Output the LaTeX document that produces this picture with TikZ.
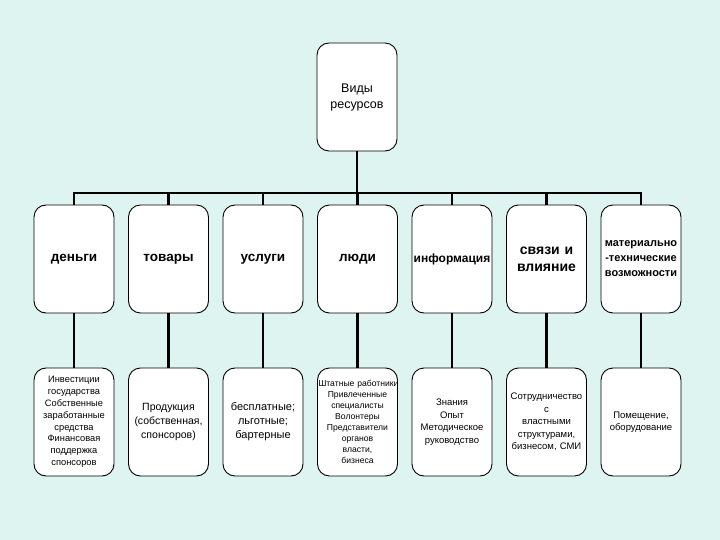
\documentclass[tikz,border=0pt]{standalone}
\usepackage{fontspec}
\setmainfont{Liberation Sans}
\usetikzlibrary{positioning}
\definecolor{slidebg}{RGB}{222,244,240}

\begin{document}
\begin{tikzpicture}[x=1pt,y=1pt,
    res/.style={draw,fill=white,rounded corners=12pt,line width=0.9pt,outer sep=0pt,
      align=center,text width=78pt,inner sep=1pt,minimum height=108pt},
    kind/.style={res,font=\bfseries\fontsize{13.5}{16}\selectfont},
    link/.style={line width=2.2pt}]
  \fill[slidebg] (0,0) rectangle (720,-540);
  \useasboundingbox (0,0) rectangle (720,-540);

  \node at (357,-97) [res,font=\fontsize{12.5}{16}\selectfont] (types) {Виды\\ресурсов};

  % first row: kinds of resources
  \node at (74,-259) [kind] (money) {деньги};
  \node [kind,right=14.5pt of money] (goods) {товары};
  \node [kind,right=14.5pt of goods] (services) {услуги};
  \node [kind,right=14.5pt of services] (people) {люди};
  \node [kind,right=14.5pt of people,font=\bfseries\fontsize{12}{15}\selectfont] (info) {информация};
  \node [kind,right=14.5pt of info,font=\bfseries\fontsize{14}{17}\selectfont] (links) {связи и\\влияние};
  \node [kind,right=14.5pt of links,font=\bfseries\fontsize{11}{15}\selectfont] (assets) {материально\\-технические\\возможности};

  % second row: sources
  \node [res,below=55pt of money,font=\fontsize{9.3}{11.8}\selectfont] (funds) {Инвестиции\\государства\\Собственные\\заработанные\\средства\\Финансовая\\поддержка\\спонсоров};
  \node [res,below=55pt of goods,font=\fontsize{10.5}{14}\selectfont] (products) {Продукция\\(собственная,\\спонсоров)};
  \node [res,below=55pt of services,font=\fontsize{11}{14}\selectfont] (terms) {бесплатные;\\льготные;\\бартерные};
  \node [res,below=55pt of people,font=\fontsize{8.6}{11}\selectfont] (staff) {\mbox{Штатные работники}\\Привлеченные\\специалисты\\Волонтеры\\Представители\\органов\\власти,\\бизнеса};
  \node [res,below=55pt of info,font=\fontsize{9.5}{12.5}\selectfont] (knowledge) {Знания\\Опыт\\Методическое\\руководство};
  \node [res,below=55pt of links,font=\fontsize{9.5}{12.5}\selectfont] (partners) {Сотрудничество\\с\\властными\\структурами,\\бизнесом, СМИ};
  \node [res,below=55pt of assets,font=\fontsize{9.5}{12.5}\selectfont] (premises) {Помещение,\\оборудование};

  \coordinate (bus) at (357,-193);
  \draw[link] (types.south) -- (types.south |- bus);
  \draw[link] (money.north) -- (money.north |- bus) -- (assets.north |- bus) -- (assets.north);
  \draw[link] (goods.north) -- (goods.north |- bus)
    (services.north) -- (services.north |- bus)
    (people.north) -- (people.north |- bus)
    (info.north) -- (info.north |- bus)
    (links.north) -- (links.north |- bus);

  \draw[link] (money) -- (funds);
  \draw[link] (goods) -- (products);
  \draw[link] (services) -- (terms);
  \draw[link] (people) -- (staff);
  \draw[link] (info) -- (knowledge);
  \draw[link] (links) -- (partners);
  \draw[link] (assets) -- (premises);
\end{tikzpicture}
\end{document}
